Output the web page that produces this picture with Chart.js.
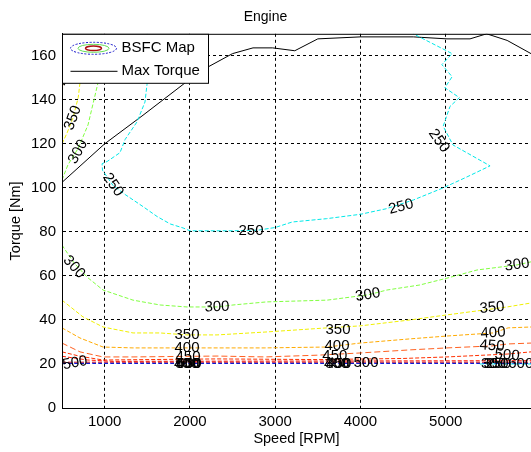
<!DOCTYPE html>
<html>
<head>
<meta charset="utf-8">
<script src="https://cdn.jsdelivr.net/npm/chart.js@4.4.1/dist/chart.umd.min.js"></script>
<style>
  html, body { margin: 0; padding: 0; background: #fff; overflow: hidden; }
  #wrap { width: 531px; height: 452px; }
</style>
</head>
<body>
<div id="wrap"><canvas id="c" width="531" height="452"></canvas></div>
<script>
// ── Data (speed in RPM, torque in Nm) ──────────────────────────────────────
const xTicks = [1000, 2000, 3000, 4000, 5000];
const yTicks = [0, 20, 40, 60, 80, 100, 120, 140, 160];

const maxTorqueSpeed = [500, 1000, 1450, 1920, 2120, 2500, 2740, 2970, 3230, 3500, 4000, 4620, 5015, 5285, 5480, 5720, 6000];
const maxTorqueNm    = [102.5, 120, 133, 147, 153, 161, 163.6, 163.6, 162.3, 167.7, 168.6, 168.6, 167.7, 167.7, 170, 167, 161];

const bsfc250Speed = [1500, 1497, 1473, 1380, 1240, 1180, 1030, 970, 975, 1100, 1240, 1450, 1615, 1770, 1920, 2000, 2500, 2800, 3000, 3200, 3600, 4000, 4300, 4620, 4970, 5250, 5520, 5085, 4970, 5050, 5160, 4990, 5075, 4955, 5075, 4620];
const bsfc250Nm    = [170, 147, 139, 130, 122, 116, 112, 111, 108, 101, 97, 91.5, 87, 83.6, 81.8, 80.5, 80.5, 80.8, 82, 84.5, 86, 88, 90.5, 94.5, 100, 105, 110, 119.5, 128, 137, 141, 145.5, 150.5, 156, 161, 170];

const bsfc300UpperSpeed = [500, 570, 690, 805, 922, 960];
const bsfc300UpperNm    = [103.6, 110.5, 118, 128.6, 147.7, 170];
const bsfc300LowerSpeed = [500, 640, 793, 981, 1333, 1650, 1966, 2318, 2505, 2900, 3608, 4088, 4311, 4698, 5015, 5367, 5836, 6000];
const bsfc300LowerNm    = [74, 66, 59.5, 53.6, 49, 46.8, 45.9, 45.9, 46.8, 48.2, 49, 51.4, 53.6, 55.9, 59, 62.7, 65, 66.4];

const bsfc350UpperSpeed = [500, 560, 629, 690, 711, 740];
const bsfc350UpperNm    = [120, 125, 131.8, 141, 147.7, 170];
const bsfc350LowerSpeed = [500, 746, 981, 1333, 1650, 1966, 2318, 2880, 3608, 3995, 4581, 5015, 5543, 5719, 6000];
const bsfc350LowerNm    = [49, 41.4, 36.8, 34.1, 34.1, 33.2, 33.2, 34.5, 36.4, 37.3, 40, 42.3, 45, 45.9, 47.7];

const bsfc400UpperSpeed = [500, 545];
const bsfc400UpperNm    = [141, 170];
const bsfc400LowerSpeed = [500, 711, 981, 1333, 2318, 2880, 3608, 3995, 4581, 5015, 5555, 5731, 6000];
const bsfc400LowerNm    = [36.4, 31.8, 27.7, 27.3, 27.3, 27.3, 27.7, 29.5, 31.4, 32.7, 34.1, 36.4, 36.8];

const bsfc450Speed = [500, 711, 981, 1333, 2318, 2880, 3500, 3995, 4581, 5015, 5543, 5731, 6000];
const bsfc450Nm    = [29.5, 25.5, 23.2, 23.2, 23.6, 23.2, 24, 25, 26.4, 27.3, 28.2, 29.1, 29.5];

const bsfc500Speed = [500, 711, 981, 2318, 3500, 4500, 5015, 5720, 6000];
const bsfc500Nm    = [25.5, 23.5, 21.8, 22.3, 22, 22.5, 23.2, 24.5, 25.5];

const bsfc550Speed = [500, 800, 1100, 6000];
const bsfc550Nm    = [23.5, 21.8, 21.2, 21.5];
const bsfc600Speed = [500, 6000];
const bsfc600Nm    = [20.8, 20.8];
const bsfcHighSpeed = [500, 6000];
const bsfcHighNm    = [20.3, 20.3];
const bsfcEdgeSpeed = [5400, 6000];
const bsfcEdgeNm    = [20, 20];

// contour labels: text, speed, torque, rotation (deg)
const contourLabels = [
  ['250', 1098, 101.4, 55], ['250', 2716, 80.5, 0], ['250', 4476, 91.4, -15], ['250', 4920, 121.4, 55],
  ['300', 688, 116.4, -62], ['350', 629, 131.8, -70], ['400', 560, 152, -70],
  ['300', 641, 64, 48], ['300', 2318, 45.9, -2], ['300', 4088, 51.4, -10], ['300', 5836, 65, -8],
  ['350', 1966, 33.2, 0], ['350', 3737, 35.5, 0], ['350', 5543, 45.5, -5],
  ['400', 1966, 27.3, 0], ['400', 3725, 28.2, 0], ['400', 5555, 34.1, -3],
  ['450', 1978, 23.2, 0], ['450', 3700, 23.6, 0], ['450', 5543, 28.2, 4],
  ['500', 653, 20.5, -10], ['500', 4065, 20.5, 0], ['500', 5720, 24, 5],
  ['400', 1960, 20, 0], ['450', 1985, 20, 0], ['500', 1975, 20, 0], ['600', 1990, 20, 0],
  ['400', 3720, 20, 0], ['450', 3745, 20, 0], ['300', 3735, 20, 0],
  ['300', 5560, 20, 0], ['350', 5590, 20, 0], ['250', 5620, 20, 0], ['600', 5880, 20, 0]
];

const FONT = "'Liberation Sans', Arial, sans-serif";
Chart.defaults.font.family = FONT;
Chart.defaults.color = '#000';

const toPoints = (xs, ys) => xs.map((x, i) => ({ x, y: ys[i] }));

function contour(xs, ys, color, dash) {
  return {
    data: toPoints(xs, ys),
    showLine: true,
    borderColor: color,
    borderWidth: 1,
    borderDash: dash || [4, 2],
    pointRadius: 0,
    tension: 0,
  };
}

const datasets = [
  contour(bsfcEdgeSpeed, bsfcEdgeNm, '#00dddd'),
  contour(bsfcHighSpeed, bsfcHighNm, '#1020ff'),
  contour(bsfc600Speed, bsfc600Nm, '#d00000'),
  contour(bsfc550Speed, bsfc550Nm, '#ff1a00'),
  contour(bsfc500Speed, bsfc500Nm, '#ff3000'),
  contour(bsfc450Speed, bsfc450Nm, '#ff6020', [6, 3]),
  contour(bsfc400LowerSpeed, bsfc400LowerNm, '#ffaa00'),
  contour(bsfc400UpperSpeed, bsfc400UpperNm, '#ffaa00'),
  contour(bsfc350LowerSpeed, bsfc350LowerNm, '#f0f000'),
  contour(bsfc350UpperSpeed, bsfc350UpperNm, '#f0f000'),
  contour(bsfc300LowerSpeed, bsfc300LowerNm, '#80ff40'),
  contour(bsfc300UpperSpeed, bsfc300UpperNm, '#80ff40'),
  contour(bsfc250Speed, bsfc250Nm, '#00e8e8'),
  {
    data: toPoints(maxTorqueSpeed, maxTorqueNm),
    showLine: true,
    borderColor: '#000',
    borderWidth: 1,
    pointRadius: 0,
    tension: 0,
  },
];

// inline contour labels, placed through the scales
const labelPlugin = {
  id: 'contourLabels',
  afterDatasetsDraw(chart) {
    const { ctx, chartArea: a, scales: { x, y } } = chart;
    ctx.save();
    ctx.beginPath();
    ctx.rect(a.left, a.top, a.right - a.left, a.bottom - a.top);
    ctx.clip();
    ctx.font = '15px ' + FONT;
    ctx.fillStyle = '#000';
    ctx.textAlign = 'center';
    ctx.textBaseline = 'middle';
    contourLabels.forEach(([t, sx, ty, rot]) => {
      ctx.save();
      ctx.translate(x.getPixelForValue(sx), y.getPixelForValue(ty));
      ctx.rotate(rot * Math.PI / 180);
      ctx.fillText(t, 0, 0);
      ctx.restore();
    });
    ctx.restore();
  },
};

// axes box + MATLAB-style legend
const frameLegendPlugin = {
  id: 'frameLegend',
  afterDraw(chart) {
    const { ctx, chartArea: a } = chart;
    ctx.save();
    ctx.strokeStyle = '#000';
    ctx.lineWidth = 1;
    ctx.setLineDash([]);
    ctx.beginPath();
    ctx.moveTo(a.right + 1, a.top + 0.5);
    ctx.lineTo(a.left + 0.5, a.top + 0.5);
    ctx.lineTo(a.left + 0.5, a.bottom + 0.5);
    ctx.lineTo(a.right + 1, a.bottom + 0.5);
    ctx.stroke();

    // legend box
    const lx = a.left + 0.5, ly = a.top + 0.5, lw = 146, lh = 49;
    ctx.fillStyle = '#fff';
    ctx.fillRect(lx, ly, lw, lh);
    ctx.strokeRect(lx, ly, lw, lh);

    // BSFC map icon: nested ellipses
    const cx = lx + 31, cy = ly + 14;
    ctx.setLineDash([2, 1.5]);
    ctx.strokeStyle = '#1a1acc';
    ctx.beginPath(); ctx.ellipse(cx, cy, 23, 6, 0, 0, Math.PI * 2); ctx.stroke();
    ctx.setLineDash([]);
    ctx.strokeStyle = '#66dd55';
    ctx.beginPath(); ctx.ellipse(cx, cy, 15.5, 4, 0, 0, Math.PI * 2); ctx.stroke();
    ctx.strokeStyle = '#aa1010';
    ctx.lineWidth = 1.5;
    ctx.beginPath(); ctx.ellipse(cx, cy, 8, 2.2, 0, 0, Math.PI * 2); ctx.stroke();
    ctx.lineWidth = 1;

    // Max torque icon
    ctx.strokeStyle = '#000';
    ctx.beginPath();
    ctx.moveTo(lx + 8, ly + 37);
    ctx.lineTo(lx + 55, ly + 37);
    ctx.stroke();

    ctx.fillStyle = '#000';
    ctx.font = '15px ' + FONT;
    ctx.textAlign = 'left';
    ctx.textBaseline = 'middle';
    ctx.fillText('BSFC Map', lx + 59, cy);
    ctx.fillText('Max Torque', lx + 59, ly + 37);
    ctx.restore();
  },
};

new Chart(document.getElementById('c'), {
  type: 'scatter',
  data: { datasets },
  options: {
    responsive: false,
    devicePixelRatio: 1,
    animation: false,
    layout: { padding: 0 },
    scales: {
      x: {
        type: 'linear',
        min: 500,
        max: 6000,
        afterBuildTicks: s => { s.ticks = xTicks.map(v => ({ value: v })); },
        afterFit: s => { s.height = 44; },
        ticks: { padding: 5, font: { size: 15 }, color: '#000', callback: v => String(v) },
        grid: { color: '#000', lineWidth: 1, drawTicks: false },
        border: { display: true, color: '#000', width: 1, dash: [3, 3] },
        title: { display: true, text: 'Speed [RPM]', font: { size: 14.5 }, color: '#000', padding: { top: 0, bottom: 4 } },
      },
      y: {
        type: 'linear',
        min: 0,
        max: 170,
        afterBuildTicks: s => { s.ticks = yTicks.map(v => ({ value: v })); },
        afterFit: s => { s.width = 62; },
        ticks: { padding: 6, font: { size: 15 }, color: '#000', callback: v => String(v) },
        grid: { color: '#000', lineWidth: 1, drawTicks: false },
        border: { display: true, color: '#000', width: 1, dash: [3, 3] },
        title: { display: true, text: 'Torque [Nm]', font: { size: 14.5 }, color: '#000', padding: { top: 7, bottom: 0 } },
      },
    },
    plugins: {
      legend: { display: false },
      tooltip: { enabled: false },
      title: {
        display: true,
        text: 'Engine',
        color: '#000',
        font: { size: 14, weight: 'normal' },
        padding: { top: 9, bottom: 8 },
      },
    },
  },
  plugins: [labelPlugin, frameLegendPlugin],
});
</script>
</body>
</html>
